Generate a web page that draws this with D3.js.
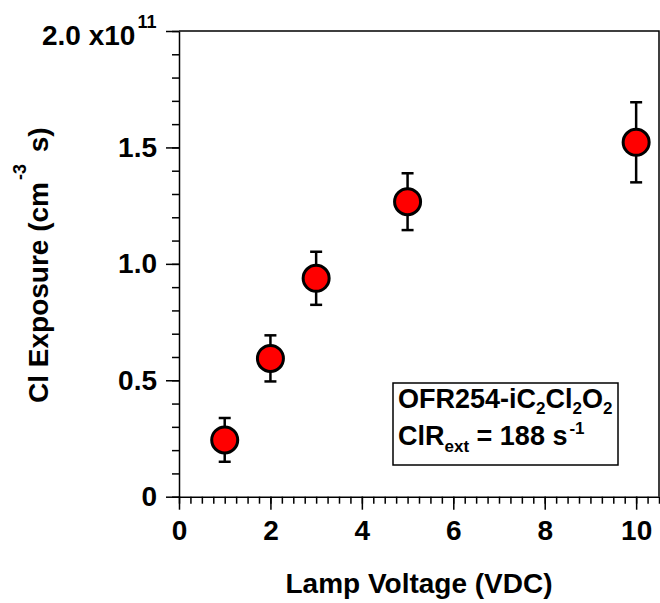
<!DOCTYPE html>
<html>
<head>
<meta charset="utf-8">
<script src="https://cdn.jsdelivr.net/npm/d3@7"></script>
<style>
  html, body { margin: 0; padding: 0; background: #fff; }
  svg { display: block; font-family: "Liberation Sans", Arial, sans-serif; font-weight: bold; }
</style>
</head>
<body>
<svg id="chart" width="660" height="603"></svg>
<script>
// Lamp voltage (VDC) and Cl exposure (cm^-3 s), with ±1σ error
const voltages  = [1, 2, 3, 5, 10];
const exposures = [0.244e11, 0.594e11, 0.938e11, 1.267e11, 1.522e11];
const errors    = [0.094e11, 0.099e11, 0.114e11, 0.122e11, 0.172e11];

const xMajorTicks = [0, 2, 4, 6, 8, 10];
const yMajorTicks = [0, 0.5e11, 1.0e11, 1.5e11, 2.0e11];
const yTickLabels = ["0", "0.5", "1.0", "1.5", ""];

const FONT = 28;
const svg = d3.select("#chart");
const plotLeft = 179, plotRight = 659, plotTop = 31, plotBottom = 496.7;

const x = d3.scaleLinear().domain([0, 10.5]).range([plotLeft, plotRight]);
const y = d3.scaleLinear().domain([0, 2e11]).range([plotBottom, plotTop]);

// frame (top and right sides)
svg.append("path")
  .attr("d", `M${plotLeft},${plotTop}H${plotRight}V${plotBottom}`)
  .attr("fill", "none").attr("stroke", "#000").attr("stroke-width", 1.5);

const styleLabels = sel => sel.selectAll("text")
  .attr("font-size", FONT)
  .attr("font-family", "Liberation Sans, Arial, sans-serif")
  .attr("font-weight", "bold")
  .attr("fill", "#000");

// x axis: minor then major ticks
const xMinor = d3.range(0, 10.5001, 0.25);
svg.append("g").attr("transform", `translate(0,${plotBottom})`)
  .call(d3.axisBottom(x).tickValues(xMinor).tickSize(7).tickFormat(""))
  .call(g => g.select(".domain").remove());
const gx = svg.append("g").attr("transform", `translate(0,${plotBottom})`)
  .call(d3.axisBottom(x).tickValues(xMajorTicks).tickSize(13).tickSizeOuter(0).tickPadding(10)
    .tickFormat(d3.format("d")));
gx.select(".domain").attr("stroke-width", 1.5);
styleLabels(gx);

// y axis: minor then major ticks
const yMinor = d3.range(0, 2.0001e11, 0.1e11);
svg.append("g").attr("transform", `translate(${plotLeft},0)`)
  .call(d3.axisLeft(y).tickValues(yMinor).tickSize(7).tickFormat(""))
  .call(g => g.select(".domain").remove());
const gy = svg.append("g").attr("transform", `translate(${plotLeft},0)`)
  .call(d3.axisLeft(y).tickValues(yMajorTicks).tickSize(13).tickSizeOuter(0).tickPadding(9)
    .tickFormat((d, i) => yTickLabels[i]));
gy.select(".domain").attr("stroke-width", 1.5);
styleLabels(gy);
svg.selectAll(".tick line").attr("stroke-width", 1.5);

// axis multiplier at the top of the y axis
const mult = svg.append("text")
  .attr("x", 42).attr("y", y(2e11) + 14)
  .attr("font-size", FONT);
mult.append("tspan").text("2.0 x10");
mult.append("tspan").attr("font-size", 18).attr("dx", 2).attr("dy", -17).text("11");

// error bars
const bars = svg.append("g").attr("stroke", "#000").attr("stroke-width", 2.5);
voltages.forEach((v, i) => {
  const cx = x(v), yHi = y(exposures[i] + errors[i]), yLo = y(exposures[i] - errors[i]);
  bars.append("line").attr("x1", cx).attr("x2", cx).attr("y1", yHi).attr("y2", yLo);
  bars.append("line").attr("x1", cx - 6).attr("x2", cx + 6).attr("y1", yHi).attr("y2", yHi);
  bars.append("line").attr("x1", cx - 6).attr("x2", cx + 6).attr("y1", yLo).attr("y2", yLo);
});

// markers
svg.append("g").selectAll("circle")
  .data(voltages)
  .join("circle")
  .attr("cx", d => x(d))
  .attr("cy", (d, i) => y(exposures[i]))
  .attr("r", 13)
  .attr("fill", "#ff0000")
  .attr("stroke", "#000")
  .attr("stroke-width", 3);

// axis titles
svg.append("text")
  .attr("x", (plotLeft + plotRight) / 2).attr("y", 593)
  .attr("text-anchor", "middle").attr("font-size", FONT)
  .text("Lamp Voltage (VDC)");

const yTitle = svg.append("text")
  .attr("transform", "translate(48,403) rotate(-90)")
  .attr("font-size", FONT);
yTitle.append("tspan").text("Cl Exposure (cm");
yTitle.append("tspan").attr("font-size", 18).attr("dx", 2).attr("dy", -22).text("-3");
yTitle.append("tspan").attr("dx", 4).attr("dy", 22).text(" s)");

// annotation box
svg.append("rect")
  .attr("x", 393).attr("y", 383).attr("width", 225).attr("height", 82)
  .attr("fill", "#fff").attr("stroke", "#000").attr("stroke-width", 1.5);

const LEG = 27, SUB = 17;
const l1 = svg.append("text").attr("x", 398).attr("y", 408).attr("font-size", LEG);
l1.append("tspan").text("OFR254-iC");
l1.append("tspan").attr("font-size", SUB).attr("dy", 6).text("2");
l1.append("tspan").attr("dy", -6).text("Cl");
l1.append("tspan").attr("font-size", SUB).attr("dy", 6).text("2");
l1.append("tspan").attr("dy", -6).text("O");
l1.append("tspan").attr("font-size", SUB).attr("dy", 6).text("2");

const l2 = svg.append("text").attr("x", 398).attr("y", 445).attr("font-size", LEG);
l2.append("tspan").text("ClR");
l2.append("tspan").attr("font-size", SUB).attr("dy", 7).text("ext");
l2.append("tspan").attr("dy", -7).text(" = 188 s");
l2.append("tspan").attr("font-size", SUB).attr("dx", 2).attr("dy", -11).text("-1");
</script>
</body>
</html>
